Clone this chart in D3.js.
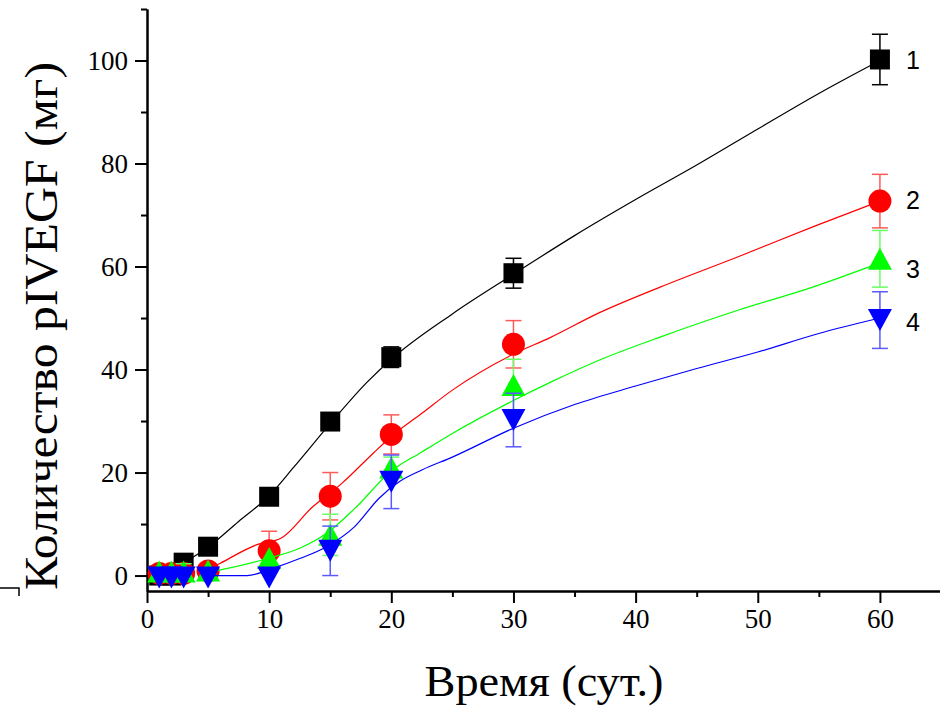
<!DOCTYPE html>
<html>
<head>
<meta charset="utf-8">
<script src="https://cdn.jsdelivr.net/npm/d3@7"></script>
<style>
  body { margin: 0; background: #fff; }
  svg { display: block; }
</style>
</head>
<body>
<div id="chart"></div>
<script>
// measured points (days)
const days = [1, 2, 3, 5, 10, 15, 20, 30, 60]

const s1 = [0, 0, 2.5, 5.6, 15.3, 29.9, 42.4, 58.7, 100.2]
const s1err = [0, 0, 0, 0, 0, 1.5, 2, 2.9, 4.9]
const s2 = [0.4, 0.4, 0.4, 0.9, 4.8, 15.4, 27.4, 44.9, 72.7]
const s2err = [0, 0, 0, 0, 3.8, 4.6, 3.8, 4.6, 5.2]
const s3 = [0.8, 0.8, 0.8, 1.0, 3.4, 7.9, 21, 37, 61.5]
const s3err = [0, 0, 1.5, 0, 0, 4, 2, 5, 5.5]
const s4 = [-0.4, -0.4, -0.4, -0.4, -0.4, 4.8, 18.2, 30.2, 49.6]
const s4err = [0, 0, 0, 0, 0, 4.8, 5.2, 5.2, 5.5]

// fitted curves
const c1x = [3, 5, 7.5, 10, 12, 15, 18, 20, 25, 30, 35, 40, 45, 50, 55, 60]
const c1y = [2.5, 5.5, 10.5, 15.5, 21, 29.5, 37.5, 42, 50.8, 58.5, 66, 73, 79.7, 86.7, 93.6, 100]
const c2x = [5, 6, 9, 11, 13.5, 16, 18.5, 20, 22.5, 25, 30, 33, 37, 42, 48.5, 54.5, 60]
const c2y = [1.2, 2.4, 6, 7.3, 13.2, 18, 23.7, 27, 31.5, 36, 43, 46.2, 51, 56, 62, 67.7, 72.7]
const c3x = [5, 6, 10, 12.5, 14.7, 17, 20, 22.5, 25, 30, 33, 37, 42, 48.5, 54.5, 60]
const c3y = [0.7, 1.1, 3.4, 5.3, 8.2, 13, 20.3, 24, 27.6, 34, 37.5, 41.8, 46.3, 51.6, 56, 60.7]
const c4x = [5, 8.2, 10.3, 12.5, 14.7, 17, 19, 20.7, 22.5, 25, 30, 35, 40, 45, 50, 55, 60]
const c4y = [0, 0, 1.4, 3.3, 5.6, 9.5, 15, 18.3, 20.5, 23, 28.6, 33.2, 36.8, 40.2, 43.4, 47, 50]

const seriesNames = ["1", "2", "3", "4"]
const xTicks = [0, 10, 20, 30, 40, 50, 60]
const xMinor = [5, 15, 25, 35, 45, 55, 65]
const yTicks = [0, 20, 40, 60, 80, 100]
const yMinor = [10, 30, 50, 70, 90, 110]

const xLabel = "Время (сут.)"
const yLabel = "Количество pIVEGF (мг)"

const series = [
    { name: seriesNames[0], y: s1, err: s1err, cx: c1x, cy: c1y, color: "#000000", errColor: "#000000", marker: "square", labelDy: 10 },
    { name: seriesNames[1], y: s2, err: s2err, cx: c2x, cy: c2y, color: "#ff0000", errColor: "#ff5a5a", marker: "circle", labelDy: 8 },
    { name: seriesNames[2], y: s3, err: s3err, cx: c3x, cy: c3y, color: "#00ff00", errColor: "#66ff66", marker: "up", labelDy: 19 },
    { name: seriesNames[3], y: s4, err: s4err, cx: c4x, cy: c4y, color: "#0000ff", errColor: "#5a5aff", marker: "down", labelDy: 11 },
]

const dimensions = {
    width: 940,
    height: 707,
}

const svg = d3.select("#chart")
    .append("svg")
    .attr("width", dimensions.width)
    .attr("height", dimensions.height)

const xScale = d3.scaleLinear()
    .domain([0, 65])
    .range([147, 941])
const yScale = d3.scaleLinear()
    .domain([-3, 110])
    .range([591, 9])

const serif = "'Liberation Serif', 'Times New Roman', serif"

// axes
svg.append("g")
    .attr("transform", `translate(0, ${yScale(-3)})`)
    .call(d3.axisBottom(xScale).tickValues(xTicks).tickSize(12).tickSizeOuter(0).tickPadding(6))
svg.append("g")
    .attr("transform", `translate(0, ${yScale(-3)})`)
    .call(d3.axisBottom(xScale).tickValues(xMinor).tickSize(6).tickSizeOuter(0).tickFormat(""))

svg.append("g")
    .attr("transform", `translate(${xScale(0)}, 0)`)
    .call(d3.axisLeft(yScale).tickValues(yTicks).tickSize(12).tickSizeOuter(0).tickPadding(7))
svg.append("g")
    .attr("transform", `translate(${xScale(0)}, 0)`)
    .call(d3.axisLeft(yScale).tickValues(yMinor).tickSize(6).tickSizeOuter(0).tickFormat(""))

svg.selectAll(".domain, .tick line")
    .attr("stroke", "#000")
    .attr("stroke-width", 2)
svg.selectAll(".tick text")
    .attr("font-family", serif)
    .style("font-family", serif)
    .style("font-size", "27px")
    .attr("fill", "#000")

// small stray mark at lower left
svg.append("path")
    .attr("d", "M0,588H19V596")
    .attr("fill", "none")
    .attr("stroke", "#000")
    .attr("stroke-width", 1.5)

// series
const line = d3.line()
    .x(d => xScale(d[0]))
    .y(d => yScale(d[1]))
    .curve(d3.curveMonotoneX)

function markerPath(type) {
    const w = 24, h = 22
    if (type === "up") return `M0,${-h / 2}L${w / 2},${h / 2}L${-w / 2},${h / 2}Z`
    if (type === "down") return `M0,${h / 2}L${w / 2},${-h / 2}L${-w / 2},${-h / 2}Z`
    return null
}

series.forEach(s => {
    const g = svg.append("g")
    const pts = days.map((d, i) => ({ x: d, y: s.y[i], e: s.err[i] }))

    // error bars
    const eb = g.selectAll(".err")
        .data(pts.filter(p => p.e > 0))
        .join("g")
        .attr("stroke", s.errColor)
        .attr("stroke-width", 1.5)
    eb.append("line")
        .attr("x1", p => xScale(p.x)).attr("x2", p => xScale(p.x))
        .attr("y1", p => yScale(p.y - p.e)).attr("y2", p => yScale(p.y + p.e))
    eb.append("line")
        .attr("x1", p => xScale(p.x) - 8).attr("x2", p => xScale(p.x) + 8)
        .attr("y1", p => yScale(p.y + p.e)).attr("y2", p => yScale(p.y + p.e))
    eb.append("line")
        .attr("x1", p => xScale(p.x) - 8).attr("x2", p => xScale(p.x) + 8)
        .attr("y1", p => yScale(p.y - p.e)).attr("y2", p => yScale(p.y - p.e))

    // fitted line
    g.append("path")
        .datum(d3.zip(s.cx, s.cy))
        .attr("d", line)
        .attr("fill", "none")
        .attr("stroke", s.color)
        .attr("stroke-width", 1.2)

    // markers
    const m = g.selectAll(".pt").data(pts)
    if (s.marker === "square") {
        m.join("rect")
            .attr("x", p => xScale(p.x) - 10)
            .attr("y", p => yScale(p.y) - 10)
            .attr("width", 20)
            .attr("height", 20)
            .attr("fill", s.color)
    } else if (s.marker === "circle") {
        m.join("circle")
            .attr("cx", p => xScale(p.x))
            .attr("cy", p => yScale(p.y))
            .attr("r", 11.5)
            .attr("fill", s.color)
    } else {
        m.join("path")
            .attr("transform", p => `translate(${xScale(p.x)}, ${yScale(p.y)})`)
            .attr("d", markerPath(s.marker))
            .attr("fill", s.color)
    }

    // series label
    const last = pts[pts.length - 1]
    g.append("text")
        .attr("x", xScale(last.x) + 33)
        .attr("y", yScale(last.y) + s.labelDy)
        .attr("text-anchor", "middle")
        .style("font-family", "'Liberation Sans', Arial, sans-serif")
        .style("font-size", "25px")
        .attr("fill", "#000")
        .text(s.name)
})

// axis titles
svg.append("text")
    .attr("x", 544)
    .attr("y", 696)
    .attr("text-anchor", "middle")
    .attr("textLength", 239)
    .attr("lengthAdjust", "spacingAndGlyphs")
    .style("font-family", serif)
    .style("font-size", "45px")
    .attr("fill", "#000")
    .text(xLabel)

svg.append("text")
    .attr("transform", "translate(57, 326) rotate(-90)")
    .attr("text-anchor", "middle")
    .attr("textLength", 528)
    .attr("lengthAdjust", "spacingAndGlyphs")
    .style("font-family", serif)
    .style("font-size", "46px")
    .attr("fill", "#000")
    .text(yLabel)
</script>
</body>
</html>
